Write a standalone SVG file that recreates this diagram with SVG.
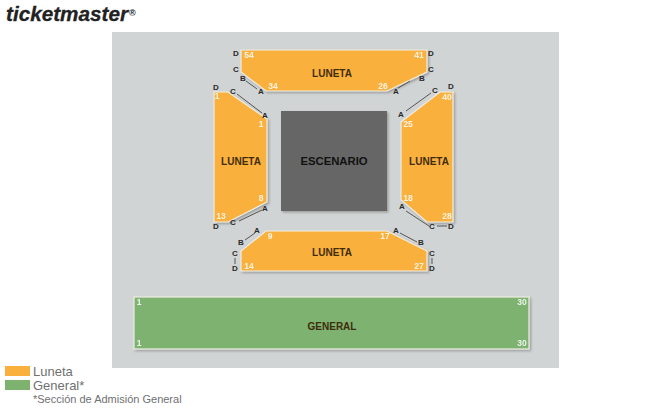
<svg xmlns="http://www.w3.org/2000/svg" width="670" height="410" viewBox="0 0 670 410">
<defs>
<filter id="sh" x="-10%" y="-10%" width="125%" height="125%"><feDropShadow dx="1.5" dy="1.5" stdDeviation="1" flood-color="#777" flood-opacity="0.6"/></filter>
</defs>
<style>
text{font-family:"Liberation Sans",Arial,sans-serif}
.sec{stroke:#f0efe6;stroke-width:1.2;filter:url(#sh)}
.lu{fill:#fab03c}
.ge{fill:#7db26f}
.name{font-size:10px;font-weight:bold;fill:#3f2c0c;text-anchor:middle}
.seat{font-size:8.5px;font-weight:bold;fill:#fff;text-anchor:middle;opacity:.85}
.row{font-size:8px;font-weight:bold;fill:#2a2a2a;text-anchor:middle}
.conn line{stroke:#555;stroke-width:1}
.leg{fill:#707070}
</style>
<rect id="background" x="112" y="32" width="447" height="336" fill="#d1d4d4"/>
<g id="logo"><text x="6" y="21" font-size="21" font-weight="bold" font-style="italic" fill="#222" stroke="#222" stroke-width="0.3" textLength="122" lengthAdjust="spacingAndGlyphs">ticketmaster</text><text x="129" y="16" font-size="9" font-weight="bold" fill="#222">®</text></g>
<g id="stage"><rect x="281" y="111" width="106" height="100" fill="#666" filter="url(#sh)"/><text x="334" y="165" font-size="11.3" font-weight="bold" fill="#111" text-anchor="middle">ESCENARIO</text></g>
<g id="luneta-top"><polygon class="sec lu" points="241,50 427,50 427,72 387,91 266,91 241,72"/><text class="name" x="332" y="77">LUNETA</text>
<text class="seat" x="249" y="58">54</text><text class="seat" x="419" y="58">41</text><text class="seat" x="273" y="89">34</text><text class="seat" x="383" y="89">26</text></g>
<g id="luneta-left"><polygon class="sec lu" points="214,92 228,92 267,119 267,202 228,222 214,222"/><text class="name" x="241" y="165">LUNETA</text>
<text class="seat" x="217" y="99">1</text><text class="seat" x="261" y="127">1</text><text class="seat" x="261" y="201">8</text><text class="seat" x="221" y="219">13</text></g>
<g id="luneta-right"><polygon class="sec lu" points="401,122 440,92 453,92 453,222 427,222 401,200"/><text class="name" x="429" y="165">LUNETA</text>
<text class="seat" x="408" y="127">25</text><text class="seat" x="447" y="100">40</text><text class="seat" x="408" y="201">18</text><text class="seat" x="447" y="219">28</text></g>
<g id="luneta-bottom"><polygon class="sec lu" points="266,231 387,231 427,251 427,271 241,271 241,251"/><text class="name" x="332" y="256">LUNETA</text>
<text class="seat" x="270" y="239">9</text><text class="seat" x="385" y="239">17</text><text class="seat" x="249" y="269">14</text><text class="seat" x="419" y="269">27</text></g>
<g id="general"><rect class="sec ge" x="134" y="297" width="395" height="52"/><text class="name" x="332" y="329.5">GENERAL</text>
<text class="seat" x="139" y="305">1</text><text class="seat" x="522" y="305">30</text><text class="seat" x="139" y="346">1</text><text class="seat" x="522" y="346">30</text></g>
<g id="connectors" class="conn">
<line x1="246" y1="81" x2="257" y2="89"/><line x1="410" y1="81" x2="398" y2="88"/>
<line x1="237" y1="94" x2="262" y2="113"/><line x1="431" y1="93" x2="406" y2="111"/>
<line x1="239" y1="221" x2="262" y2="210"/><line x1="406" y1="211" x2="429" y2="226"/><line x1="437" y1="226" x2="447" y2="226"/>
<line x1="245" y1="240" x2="255" y2="233"/><line x1="400" y1="233" x2="417" y2="242"/>
<line x1="235" y1="258" x2="235" y2="264"/><line x1="432" y1="258" x2="432" y2="264"/>
</g>
<g id="row-labels">
<text class="row" x="236" y="56">D</text><text class="row" x="236" y="72">C</text><text class="row" x="243" y="81">B</text><text class="row" x="261" y="94">A</text>
<text class="row" x="431" y="56">D</text><text class="row" x="431" y="72">C</text><text class="row" x="422" y="81">B</text><text class="row" x="396" y="94">A</text>
<text class="row" x="216" y="90">D</text><text class="row" x="233" y="94">C</text><text class="row" x="265" y="118">A</text>
<text class="row" x="451" y="89">D</text><text class="row" x="435" y="93">C</text><text class="row" x="401" y="117">A</text>
<text class="row" x="216" y="229">D</text><text class="row" x="233" y="225">C</text><text class="row" x="265" y="211">A</text>
<text class="row" x="402" y="209">A</text><text class="row" x="432" y="229">C</text><text class="row" x="451" y="229">D</text>
<text class="row" x="257" y="233">A</text><text class="row" x="241" y="245">B</text><text class="row" x="396" y="233">A</text><text class="row" x="421" y="245">B</text>
<text class="row" x="235" y="256">C</text><text class="row" x="235" y="271">D</text><text class="row" x="432" y="256">C</text><text class="row" x="432" y="271">D</text>
</g>
<g id="legend">
<rect x="5" y="366" width="25" height="10" class="lu"/><text class="leg" x="33" y="375.5" font-size="13">Luneta</text>
<rect x="5" y="380" width="25" height="10" class="ge"/><text class="leg" x="33" y="390" font-size="13">General*</text>
<text class="leg" x="33" y="403" font-size="11">*Sección de Admisión General</text>
</g>
</svg>
